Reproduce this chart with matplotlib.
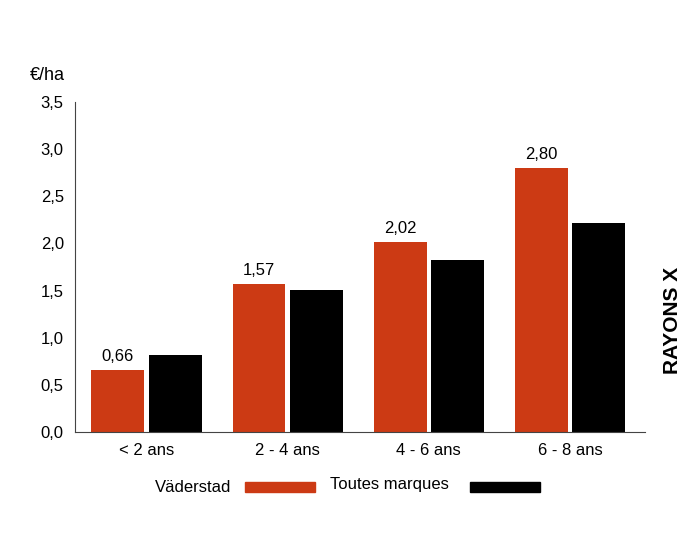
import matplotlib
matplotlib.use("Agg")
import matplotlib.pyplot as plt
from matplotlib.patches import Rectangle

categories = ["< 2 ans", "2 - 4 ans", "4 - 6 ans", "6 - 8 ans"]
vaderstad = [0.66, 1.57, 2.02, 2.80]
toutes = [0.82, 1.51, 1.83, 2.22]
vad_labels = ["0,66", "1,57", "2,02", "2,80"]
yticks = [0, 0.5, 1.0, 1.5, 2.0, 2.5, 3.0, 3.5]
ytick_labels = ["0,0", "0,5", "1,0", "1,5", "2,0", "2,5", "3,0", "3,5"]

plt.rcParams['font.family'] = ['Liberation Sans', 'DejaVu Sans']
orange = "#cc3a14"
fig = plt.figure(figsize=(7, 5.45), dpi=100)
ax = fig.add_axes([0.107, 0.207, 0.814, 0.606])
w = 0.375
x = list(range(len(categories)))
ax.bar([i - w/2 - 0.015 for i in x], vaderstad, w, color=orange)
ax.bar([i + w/2 + 0.015 for i in x], toutes, w, color="black")
for i, (v, l) in enumerate(zip(vaderstad, vad_labels)):
    ax.text(i - w/2 - 0.015, v + 0.06, l, ha="center", va="bottom", fontsize=12)
ax.set_xlim(-0.507, 3.53)
ax.set_ylim(0, 3.5)
ax.set_yticks(yticks, ytick_labels, fontsize=12)
ax.set_xticks(x, categories, fontsize=12)
ax.tick_params(length=0, pad=8)
for s in ["top", "right"]:
    ax.spines[s].set_visible(False)
ax.spines["left"].set_color("#444444")
ax.spines["bottom"].set_color("#444444")
fig.text(30/700, 1 - 75/545, "€/ha", fontsize=13, va="center")
fig.text(672/700, 1 - 320/545, "RAYONS X", rotation=90, fontsize=15,
         fontweight="bold", ha="center", va="center")
ly = 1 - 487/545
fig.text(155/700, ly, "Väderstad", fontsize=12, va="center")
fig.patches.append(Rectangle((245/700, ly - 5/545), 70/700, 10/545,
                             transform=fig.transFigure, color=orange))
fig.text(330/700, ly + 2/545, "Toutes marques", fontsize=12, va="center")
fig.patches.append(Rectangle((470/700, ly - 5/545), 70/700, 10/545,
                             transform=fig.transFigure, color="black"))
fig.savefig("out.png", dpi=100)
